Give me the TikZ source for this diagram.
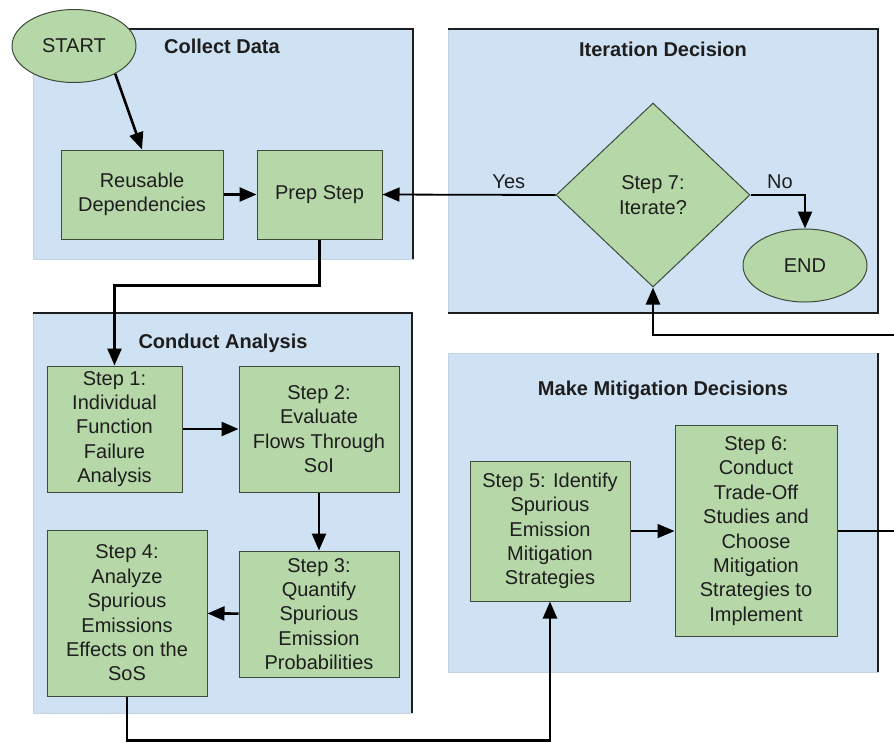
\documentclass[tikz,border=0pt]{standalone}
\usepackage{fontspec}
\setmainfont{Liberation Sans}
\usetikzlibrary{arrows.meta,positioning,shapes.geometric}

\definecolor{boxblue}{HTML}{CFE2F3}
\definecolor{stepgreen}{HTML}{B6D7A8}
\definecolor{stepline}{HTML}{3F4A3A}
\definecolor{inkgray}{HTML}{1E1E1E}

\begin{document}
\begin{tikzpicture}[x=1pt, y=-1pt, text=inkgray,
  font=\fontsize{20}{24.4}\selectfont,
  stepbox/.style={rectangle, draw=stepline, line width=1pt, fill=stepgreen, align=center, inner sep=2pt},
  startend/.style={ellipse, draw=stepline, line width=1pt, fill=stepgreen, minimum width=124pt, minimum height=73pt, inner sep=0pt},
  decision/.style={diamond, draw=stepline, line width=1pt, fill=stepgreen, align=center, minimum width=194pt, minimum height=184pt, inner sep=0pt},
  zone/.style={fill=boxblue, draw=boxblue!85!gray},
  zoneedge/.style={draw=inkgray, line width=1.8pt},
  zonetitle/.style={font=\fontsize{20}{24}\selectfont\bfseries},
  flow/.style={-{Triangle[length=17pt,width=14pt]}, line width=2.6pt},
  thinflow/.style={flow, line width=1.8pt}]

\useasboundingbox (0,0) rectangle (894,742);

\path[zone] (33,29)   rectangle (413,259);
\path[zone] (448,29)  rectangle (878,313);
\path[zone] (33,313)  rectangle (412,713);
\path[zone] (448,353) rectangle (878,672);

\draw[zoneedge] (33,29) -- (413,29) -- (413,259);
\draw[zoneedge] (448,29) -- (878,29) -- (878,313) -- (448,313);
\draw[zoneedge] (33,313) -- (412,313) -- (412,713);
\draw[zoneedge] (878,353) -- (878,672);

\node[zonetitle] (tcollect) at (222,46)  {Collect Data};
\node[zonetitle] (titer)    at (663,49)  {Iteration Decision};
\node[zonetitle] (tconduct) at (223,343) {Conduct Analysis};
\node[zonetitle] (tmitig)   at (663,390) {Make Mitigation Decisions};

\node[startend] (start) at (74,46)                                      {START};
\node[stepbox, minimum width=162pt, minimum height=89pt] (rd) at (142,194.5) {Reusable\\Dependencies};
\node[stepbox, minimum width=125pt, minimum height=89pt] (prep) [right=33pt of rd] {Prep Step};

\node[decision] (iter) at (653,195)                                     {Step 7:\\Iterate?};
\node[startend] (endn) at (805,265.5)                                   {END};

\node[stepbox, minimum width=135pt, minimum height=126pt] (s1) at (114.5,429) {Step 1:\\Individual\\Function\\Failure\\Analysis};
\node[stepbox, minimum width=160pt, minimum height=126pt] (s2) [right=56pt of s1] {Step 2:\\Evaluate\\Flows Through\\SoI};
\node[stepbox, minimum width=160pt, minimum height=126pt] (s3) [below=58pt of s2] {Step 3:\\Quantify\\Spurious\\Emission\\Probabilities};
\node[stepbox, minimum width=160pt, minimum height=166pt] (s4) at (127,613) {Step 4:\\Analyze\\Spurious\\Emissions\\Effects on the\\SoS};

\node[stepbox, minimum width=160pt, minimum height=140pt] (s5) at (550,531) {Step 5: Identify\\Spurious\\Emission\\Mitigation\\Strategies};
\node[stepbox, minimum width=162pt, minimum height=211pt] (s6) [right=44pt of s5] {Step 6:\\Conduct\\Trade-Off\\Studies and\\Choose\\Mitigation\\Strategies to\\Implement};

\coordinate (outA) at (894,531);
\coordinate (outB) at (894,335);

\path[flow]
      (start.-34) edge (rd.north)
      (rd)        edge (prep)
      (s1)        edge (s2)
      (s2)        edge (s3)
      (s3)        edge (s4);

\path[thinflow]
      (iter.west) edge node[pos=0.27, above=2pt] {Yes} (prep.east)
      (s5)        edge (s6);

\draw[flow] (iter.east) -| node[pos=0.27, above=2pt] {No} (endn.north);
\draw[flow] (prep.south) -- ++(0,46) -| (s1.north);
\draw[flow] (s4.south) -- ++(0,44) -| (s5.south);
\draw[flow] (outB) -| (iter.south);
\draw[thinflow, -] (s6.east) -- (outA);
\end{tikzpicture}
\end{document}
